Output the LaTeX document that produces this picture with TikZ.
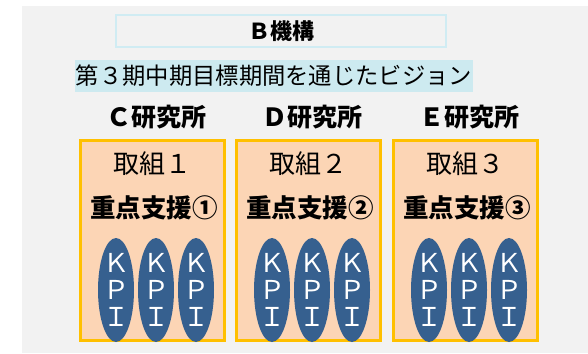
\documentclass[tikz,border=0pt]{standalone}
\usepackage{fontspec}
\newfontfamily\jp{Noto Sans CJK JP}
\usetikzlibrary{shapes.geometric}
\definecolor{bggrey}{HTML}{F2F2F2}
\definecolor{visionblue}{HTML}{CDEAF0}
\definecolor{bborder}{HTML}{D0ECF3}
\definecolor{peach}{HTML}{FCD5B5}
\definecolor{orangeC}{HTML}{FFC000}
\definecolor{navy}{HTML}{36608F}
\begin{document}
\begin{tikzpicture}[x=1pt,y=-1pt,
  unitbox/.style={draw=orangeC, line width=3pt, fill=peach, minimum width=144, minimum height=200, inner sep=0},
  kpishape/.style={ellipse, fill=navy, minimum width=36, minimum height=104, inner sep=0},
  kpiletter/.style={text=white, inner sep=0, font=\jp\fontsize{26}{26}\selectfont},
  lablab/.style={font=\jp\bfseries\fontsize{25}{25}\selectfont, inner sep=0},
  torikumi/.style={font=\jp\fontsize{26}{26}\selectfont, inner sep=0},
  juten/.style={font=\jp\bfseries\fontsize{25.5}{25.5}\selectfont, inner sep=0}]
\useasboundingbox (0,0) rectangle (588,353);
\fill[bggrey] (22,6) rectangle (588,353);
\node[draw=bborder, line width=1.5pt, minimum width=330, minimum height=32, inner sep=0,
      font=\jp\bfseries\fontsize{22}{22}\selectfont] (kikou) at (281,31) {Ｂ機構};
\node[fill=visionblue, minimum width=398, minimum height=32, inner sep=0,
      font=\jp\fontsize{23.3}{23.3}\selectfont] (vision) at (274,76) {第３期中期目標期間を通じたビジョン};
\foreach \i/\cx/\lab/\num/\circ in {1/152/Ｃ/１/①, 2/308/Ｄ/２/②, 3/465/Ｅ/３/③}{
  \node[lablab] (lab\i) at (\cx+4,117) {\lab 研究所};
  \node[unitbox] (box\i) at (\cx,240) {};
  \node[torikumi] (tk\i) at (\cx,164) {取組\num};
  \node[juten] (jt\i) at (\cx+2,208) {重点支援\circ};
  \foreach \j/\dx in {1/-36, 2/4, 3/44}{
    \node[kpishape] (kpi\i\j) at (\cx+\dx,290) {};
    \node[kpiletter] (kk\i\j) at ([yshift=27]kpi\i\j) {Ｋ};
    \node[kpiletter] (kp\i\j) at (kpi\i\j) {Ｐ};
    \node[kpiletter] (ki\i\j) at ([yshift=-27]kpi\i\j) {Ｉ};
  }
}
\end{tikzpicture}
\end{document}
